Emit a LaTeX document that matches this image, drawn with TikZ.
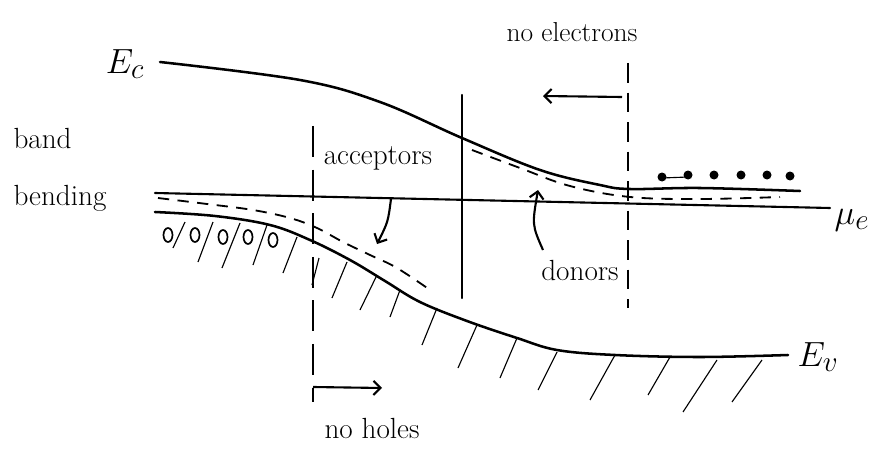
\documentclass[tikz,border=0pt]{standalone}
\usepackage{amsmath}
\usetikzlibrary{arrows.meta,positioning}

\tikzset{
  band/.style={line width=1.8pt,line cap=round},
  level/.style={line width=1.3pt,dash pattern=on 8pt off 6pt},
  border/.style={line width=1.4pt,dash pattern=on 22pt off 9pt},
  hatchline/.style={line width=0.8pt},
  hole/.style={line width=1.2pt},
  arr/.style={line width=1.5pt,-{Straight Barb[length=5pt,width=10pt]}},
  lbl/.style={font=\huge,inner sep=1pt},
  sym/.style={font=\Huge,inner sep=1pt},
}

\begin{document}
\begin{tikzpicture}[x=0.025cm,y=-0.025cm]
\useasboundingbox (0,0) rectangle (882,453);

% labels
\node[sym] (Ec) at (125,64) {$E_c$};
\node[sym] (Ev) at (818,357) {$E_v$};
\node[sym] (mue) at (852,220) {$\mu_e$};
\node[lbl,align=left] (bb) at (60,170) {band\\[16pt]bending};
\node[lbl] (acc) at (378,158) {acceptors};
\node[lbl,font=\fontsize{19.5}{23}\selectfont] (noel) at (572,32) {no electrons};
\node[lbl] (don) at (580,270) {donors};
\node[lbl] (noho) at (372,428) {no holes};

% conduction band, chemical potential, valence band
\draw[band] plot[smooth,tension=0.6] coordinates {(160,62) (300,80) (380,102)
  (462,138) (540,170) (600,185) (630,189) (700,188) (800,191)};
\draw[band,line width=1.5pt] (155,193) -- (830,208);
\draw[band] plot[smooth,tension=0.6] coordinates {(155,212) (215,216) (270,225)
  (310,240) (350,260) (385,281) (420,302) (467,321) (517,338) (557,350)
  (615,355) (700,357) (788,355)};

% acceptor and donor levels
\draw[level] plot[smooth,tension=0.6] coordinates {(158,198) (207,204) (253,210)
  (290,218) (317,228) (343,242) (370,255) (397,268) (433,292)};
\draw[level] plot[smooth,tension=0.6] coordinates {(472,150) (520,168) (570,186)
  (630,197) (700,199) (780,197)};

% electrons
\foreach \x/\y in {662/177,688/175,714/175,741/175,767/175,790/176}
  \fill (\x,\y) circle (4.5);
\draw[line width=0.8pt] (662,178) -- (688,177);

% holes
\foreach \x/\y in {168/235,195/235,223/237,248/237,273/240}
  \draw[hole] (\x,\y) ellipse (4.5 and 7);

% region borders
\draw[border] (313,126) -- (313,402);
\draw[band,line width=1.5pt] (462,95) -- (462,298);
\draw[border,dash pattern=on 14pt off 7pt] (628,63) -- (628,308);

% hatching under the valence band
\foreach \a/\b/\c/\d in {185/222/173/248,213/222/198/262,240/223/222/268,
  267/225/253/265,297/237/283/273,319/258/312/285,347/262/332/298,
  377/275/360/310,400/290/390/317,437/308/422/345,477/325/458/368,
  517/338/500/378,557/352/538/390,615/355/590/400,670/357/648/395,
  717/360/683/412,762/360/732/402}
  \draw[hatchline] (\a,\b) -- (\c,\d);

% arrows
\coordinate (eltail) at (622,97);
\coordinate (elhead) at (543,96);
\draw[arr] (eltail) -- (elhead);
\coordinate (hotail) at (313,387);
\coordinate (hohead) at (382,388);
\draw[arr] (hotail) -- (hohead);
\coordinate (acctail) at (391,199);
\coordinate (acchead) at (377,244);
\draw[arr] (acctail) .. controls (388,222) .. (acchead);
\coordinate (dontail) at (543,250);
\coordinate (donhead) at (538,190);
\draw[arr] (dontail) .. controls (532,225) .. (donhead);
\end{tikzpicture}
\end{document}
